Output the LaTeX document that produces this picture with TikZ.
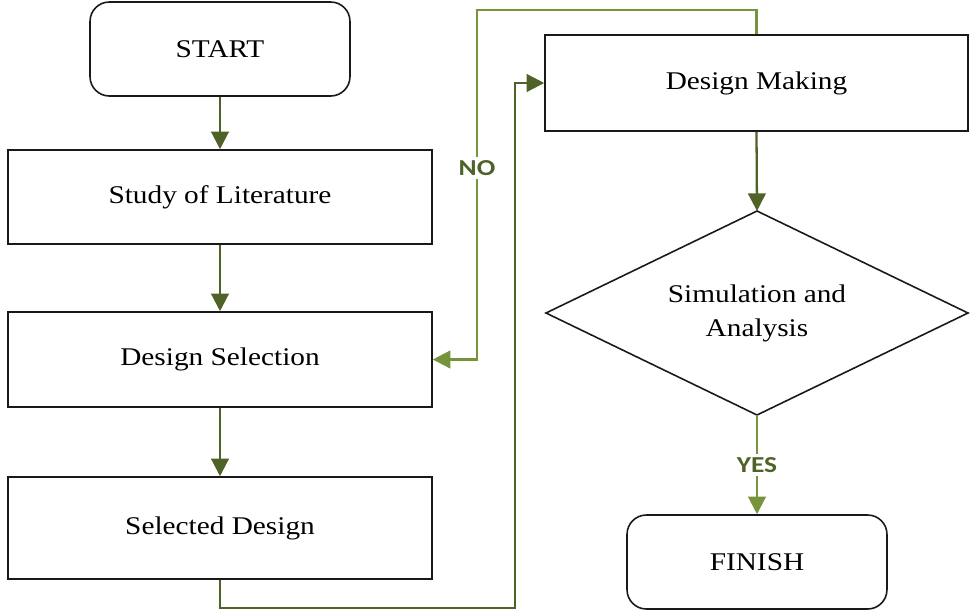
\documentclass[tikz,border=0pt]{standalone}
\usepackage{fontspec}
\setmainfont{Liberation Serif}[FakeStretch=1.15]
\newfontfamily\lblfont{Carlito}[FakeStretch=1.2]
\usetikzlibrary{arrows.meta}
\definecolor{dkgreen}{HTML}{4F6228}
\definecolor{ltgreen}{HTML}{77933C}
\tikzset{
  box/.style={draw=black!90, line width=0.9pt, rectangle, minimum width=8.48cm, minimum height=1.88cm, inner sep=0pt, font=\fontsize{14.5}{19}\selectfont},
  rbox/.style={box, rounded corners=11pt, minimum width=5.2cm},
  dtext/.style={inner sep=0pt, align=center, font=\fontsize{14.5}{19.3}\selectfont},
  dline/.style={draw=black!90, line width=0.9pt},
  darkarrow/.style={draw=dkgreen, line width=1.3pt, -{Triangle[length=10pt,width=10pt]}},
  lightarrow/.style={draw=ltgreen, line width=1.3pt, -{Triangle[length=10pt,width=10pt]}},
  lbl/.style={fill=white, inner sep=2pt, font=\lblfont\bfseries\fontsize{13}{14}\selectfont}
}
\begin{document}
\begin{tikzpicture}[x=0.02cm, y=-0.02cm]
\useasboundingbox (0,0) rectangle (970,613);
\node[rbox] (start) at (220,49) {START};
\node[box] (study) at (220,197) {Study of Literature};
\node[box, minimum height=1.9cm] (dsel) at (220,359.5) {Design Selection};
\node[box, minimum height=2.04cm] (seld) at (220,528) {Selected Design};
\node[box, minimum width=8.46cm, minimum height=1.92cm] (dm) at (756.5,83) {Design Making};
\coordinate (simtop) at (757,211);
\coordinate (simright) at (968,313);
\coordinate (simbot) at (757,415);
\coordinate (simleft) at (546,313);
\draw[dline] (simtop) -- (simright) -- (simbot) -- (simleft) -- cycle;
\node[dtext] (sim) at (757,313) {Simulation and\\Analysis};
\node[rbox] (fin) at (757,562) {FINISH};
\coordinate (c1) at (515,608);
\coordinate (c2) at (477,10);
\draw[darkarrow] (start) -- (study);
\draw[darkarrow] (study) -- (dsel);
\draw[darkarrow] (dsel) -- (seld);
\draw[darkarrow] (seld.south) |- (c1) |- (dm.west);
\draw[darkarrow] (dm.south) -- (simtop);
\draw[lightarrow] (dm.north) |- (c2) |- (dsel.east);
\node[lbl, text=dkgreen] (no) at (477,168) {NO};
\draw[lightarrow] (simbot) -- (fin.north);
\node[lbl, text=dkgreen] (yes) at (757,465) {YES};
\end{tikzpicture}
\end{document}
